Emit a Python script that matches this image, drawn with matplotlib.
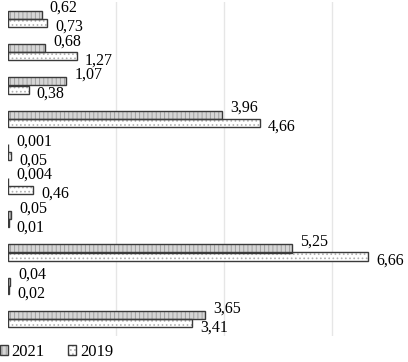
import numpy as np
import matplotlib.pyplot as plt

plt.rcParams['font.family'] = ['Liberation Serif', 'DejaVu Serif']
plt.rcParams['hatch.linewidth'] = 0.7

# values, top row first
v2021 = [0.62, 0.68, 1.07, 3.96, 0.001, 0.004, 0.05, 5.25, 0.04, 3.65]
v2019 = [0.73, 1.27, 0.38, 4.66, 0.05, 0.46, 0.01, 6.66, 0.02, 3.41]
lab2021 = ['0,62', '0,68', '1,07', '3,96', '0,001', '0,004', '0,05', '5,25', '0,04', '3,65']
lab2019 = ['0,73', '1,27', '0,38', '4,66', '0,05', '0,46', '0,01', '6,66', '0,02', '3,41']

n = len(v2021)
y = np.arange(n)
h = 0.24

fig = plt.figure(figsize=(4.08, 3.62), dpi=100)
ax = fig.add_axes([8/408, 26/362, 400/408, 334/362])

# hatch layer in light grey, then dark outlines on top
f21 = ax.barh(y - h/2, v2021, height=h, color='#d6d6d6', edgecolor='#a0a0a0',
              linewidth=0, hatch='||||')
f19 = ax.barh(y + h/2, v2019, height=h, color='white', edgecolor='#b0b0b0',
              linewidth=0, hatch='....')
o21 = ax.barh(y - h/2, v2021, height=h, color='none', edgecolor='#3a3a3a', linewidth=1)
o19 = ax.barh(y + h/2, v2019, height=h, color='none', edgecolor='#3a3a3a', linewidth=1)

for i in range(n):
    ax.annotate(lab2021[i], (v2021[i], y[i] - h/2), xytext=(6, 5),
                textcoords='offset points', va='center', ha='left', fontsize=11.5)
    ax.annotate(lab2019[i], (v2019[i], y[i] + h/2), xytext=(6, -3),
                textcoords='offset points', va='center', ha='left', fontsize=11.5)

ax.set_xlim(0, 7.4)
ax.set_ylim(n - 0.5, -0.5)
ax.set_xticks([2, 4, 6])
ax.xaxis.grid(True, color='#e6e6e6', linewidth=1)
ax.set_axisbelow(True)
ax.tick_params(left=False, bottom=False, labelleft=False, labelbottom=False)
for s in ax.spines.values():
    s.set_visible(False)

ax.legend([(f21[0], o21[0]), (f19[0], o19[0])], ['2021', '2019'],
          loc='lower left', bbox_to_anchor=(-8/400, -24/334), ncol=2, frameon=False,
          fontsize=12, handlelength=0.5, handleheight=0.6, handletextpad=0.2,
          columnspacing=1.4, borderaxespad=0, borderpad=0)

plt.savefig('out.png', dpi=100)
